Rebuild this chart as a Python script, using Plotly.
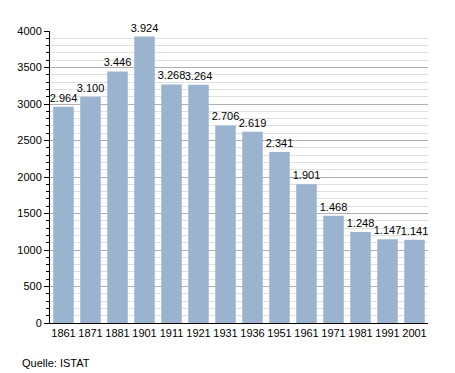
import plotly.graph_objects as go

years = ["1861", "1871", "1881", "1901", "1911", "1921", "1931", "1936",
         "1951", "1961", "1971", "1981", "1991", "2001"]
population = [2964, 3100, 3446, 3924, 3268, 3264, 2706, 2619,
              2341, 1901, 1468, 1248, 1147, 1141]
source_text = "Quelle: ISTAT"

fig = go.Figure(go.Bar(
    x=years, y=population,
    marker=dict(color="#9ab3cf", line=dict(width=0)),
    texttemplate="%{y:,}", textposition="outside",
    constraintext="none", cliponaxis=False,
    textfont=dict(color="black", size=11),
    hoverinfo="skip",
))

fig.update_layout(
    width=455, height=373,
    margin=dict(l=50, r=27, t=31, b=50),
    paper_bgcolor="white", plot_bgcolor="white",
    font=dict(family="Liberation Sans, Arial, sans-serif", size=11, color="black"),
    separators=",.",
    bargap=0.24,
    showlegend=False,
    xaxis=dict(
        showline=True, linecolor="black", linewidth=1,
        ticks="", showgrid=False, tickfont=dict(size=11),
    ),
    yaxis=dict(
        range=[0, 4000], dtick=500, tick0=0,
        showline=True, linecolor="black", linewidth=1,
        ticks="outside", ticklen=5, tickcolor="black",
        showgrid=True, gridcolor="#b0b0b0", gridwidth=1,
        zeroline=False, tickfont=dict(size=11),
        minor=dict(dtick=100, ticks="outside", ticklen=3, tickcolor="black",
                   showgrid=True, gridcolor="#e0e0e0", gridwidth=1),
    ),
    annotations=[dict(
        text=source_text, xref="paper", yref="paper",
        x=(20 - 50) / 378, y=-(355 - 323) / 292,
        xanchor="left", yanchor="top",
        showarrow=False, font=dict(size=11),
    )],
)

fig.write_html("out.html", config={"displayModeBar": False, "staticPlot": True})
with open("out.html", encoding="utf-8") as f:
    html = f.read()
html = html.replace("<head>", "<head><style>html,body{margin:0;padding:0;overflow:hidden;}</style>", 1)
with open("out.html", "w", encoding="utf-8") as f:
    f.write(html)
